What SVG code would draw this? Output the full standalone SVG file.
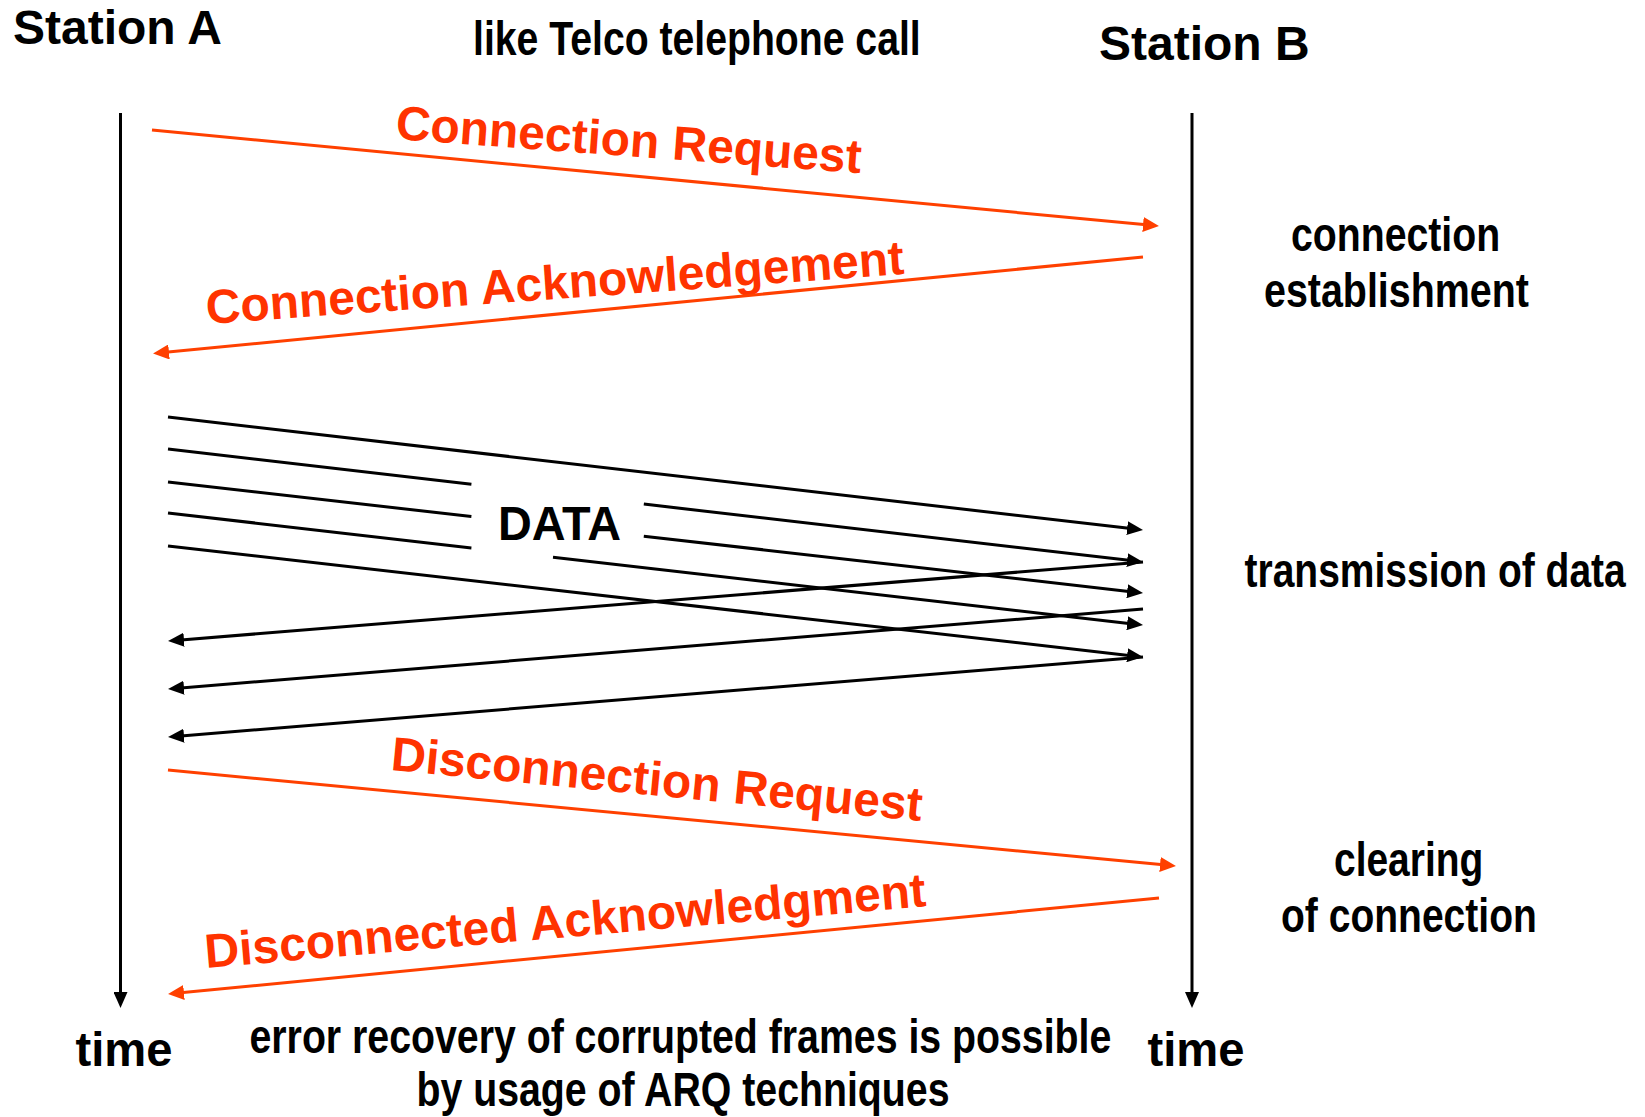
<svg xmlns="http://www.w3.org/2000/svg" width="1645" height="1117" viewBox="0 0 1645 1117">
  <style>
    .bg { fill: #ffffff; }
    .wide { font-family: "Liberation Sans", Arial, sans-serif; font-weight: bold; font-size: 48px; fill: #000000; }
    .narrow { font-family: "Liberation Sans", Arial, sans-serif; font-weight: bold; font-size: 47.5px; fill: #000000; }
    .msg { font-family: "Liberation Sans", Arial, sans-serif; font-weight: bold; font-size: 48px; fill: #FF3300; }
    .axis { stroke: #000000; stroke-width: 3; fill: none; }
    .frame { stroke: #000000; stroke-width: 3; fill: none; }
    .ctrl { stroke: #FF4000; stroke-width: 3; fill: none; }
  </style>
  <defs>
    <marker id="headBlack" markerUnits="userSpaceOnUse" markerWidth="16" markerHeight="14" refX="6" refY="7" orient="auto">
      <path d="M0,0 L16,7 L0,14 z" fill="#000000"/>
    </marker>
    <marker id="headRed" markerUnits="userSpaceOnUse" markerWidth="16" markerHeight="15" refX="6" refY="7.5" orient="auto">
      <path d="M0,0 L16,7.5 L0,15 z" fill="#FF4000"/>
    </marker>
  </defs>

  <rect class="bg" x="0" y="0" width="1645" height="1117"/>

  <!-- station headings and title -->
  <g id="station-a">
    <text class="wide" x="13" y="44">Station A</text>
  </g>
  <g id="station-b">
    <text class="wide" x="1099" y="60">Station B</text>
  </g>
  <!-- condensed captions: horizontal squeeze of a bold sans face -->
  <g id="title">
    <text class="narrow" transform="translate(473 55) scale(0.82 1)" textLength="546" lengthAdjust="spacingAndGlyphs">like Telco telephone call</text>
  </g>

  <!-- phase captions on the right -->
  <g id="phase-establish">
    <text class="narrow" transform="translate(1291 251) scale(0.82 1)" textLength="255" lengthAdjust="spacingAndGlyphs">connection</text>
    <text class="narrow" transform="translate(1264 306.5) scale(0.82 1)" textLength="323" lengthAdjust="spacingAndGlyphs">establishment</text>
  </g>
  <g id="phase-transfer">
    <text class="narrow" transform="translate(1244.5 587) scale(0.82 1)" textLength="465" lengthAdjust="spacingAndGlyphs">transmission of data</text>
  </g>
  <g id="phase-clear">
    <text class="narrow" transform="translate(1334 875.5) scale(0.82 1)" textLength="182" lengthAdjust="spacingAndGlyphs">clearing</text>
    <text class="narrow" transform="translate(1281 931.5) scale(0.82 1)" textLength="312" lengthAdjust="spacingAndGlyphs">of connection</text>
  </g>

  <!-- time axis captions -->
  <g id="time-a">
    <text class="wide" x="75.5" y="1066" font-size="47.5" textLength="97" lengthAdjust="spacingAndGlyphs">time</text>
  </g>
  <g id="time-b">
    <text class="wide" x="1147.5" y="1066" font-size="47.5" textLength="97" lengthAdjust="spacingAndGlyphs">time</text>
  </g>

  <!-- footnote -->
  <g id="note">
    <text class="narrow" transform="translate(249.5 1053) scale(0.82 1)" textLength="1051" lengthAdjust="spacingAndGlyphs">error recovery of corrupted frames is possible</text>
    <text class="narrow" transform="translate(416.5 1106) scale(0.82 1)" textLength="650" lengthAdjust="spacingAndGlyphs">by usage of ARQ techniques</text>
  </g>

  <!-- data label -->
  <g id="data-label">
    <text class="wide" x="498" y="540" font-size="47" textLength="123" lengthAdjust="spacingAndGlyphs">DATA</text>
  </g>

  <!-- message labels -->
  <g id="label-conn-req">
    <text class="msg" x="395" y="139" transform="rotate(4.2 395 139)">Connection Request</text>
  </g>
  <g id="label-conn-ack">
    <text class="msg" x="207" y="324" transform="rotate(-4.1 207 324)">Connection Acknowledgement</text>
  </g>
  <g id="label-disc-req">
    <text class="msg" x="390" y="770" transform="rotate(5.5 390 770)">Disconnection Request</text>
  </g>
  <g id="label-disc-ack">
    <text class="msg" x="206" y="968" transform="rotate(-4.9 206 968)">Disconnected Acknowledgment</text>
  </g>

  <g id="connectors">
    <!-- vertical time lines -->
    <line class="axis" x1="120.5" y1="113" x2="120.5" y2="998" marker-end="url(#headBlack)"/>
    <line class="axis" x1="1192" y1="113" x2="1192" y2="998" marker-end="url(#headBlack)"/>

    <!-- connection set-up -->
    <line class="ctrl" x1="152" y1="130" x2="1149" y2="225.1" marker-end="url(#headRed)"/>
    <line class="ctrl" x1="1143" y1="257" x2="163" y2="352.5" marker-end="url(#headRed)"/>

    <!-- data frames A to B -->
    <line class="frame" x1="168" y1="417" x2="1133.1" y2="528.8" marker-end="url(#headBlack)"/>
    <line class="frame" x1="168" y1="449" x2="471.4" y2="484.2"/>
    <line class="frame" x1="643.8" y1="504.1" x2="1133.1" y2="560.8" marker-end="url(#headBlack)"/>
    <line class="frame" x1="168" y1="482" x2="471.4" y2="516.5"/>
    <line class="frame" x1="643.8" y1="536.2" x2="1133.1" y2="591.9" marker-end="url(#headBlack)"/>
    <line class="frame" x1="168" y1="513" x2="471.4" y2="547.9"/>
    <line class="frame" x1="553" y1="557.2" x2="1133.1" y2="623.9" marker-end="url(#headBlack)"/>
    <line class="frame" x1="168" y1="546" x2="1133.1" y2="655.9" marker-end="url(#headBlack)"/>

    <!-- acknowledgements B to A -->
    <line class="frame" x1="1143" y1="562" x2="178" y2="640.2" marker-end="url(#headBlack)"/>
    <line class="frame" x1="1143" y1="609" x2="178" y2="688.2" marker-end="url(#headBlack)"/>
    <line class="frame" x1="1143" y1="657" x2="178" y2="736.2" marker-end="url(#headBlack)"/>

    <!-- connection release -->
    <line class="ctrl" x1="168" y1="770" x2="1166" y2="865.1" marker-end="url(#headRed)"/>
    <line class="ctrl" x1="1159" y1="898" x2="178" y2="993" marker-end="url(#headRed)"/>
  </g>
</svg>
